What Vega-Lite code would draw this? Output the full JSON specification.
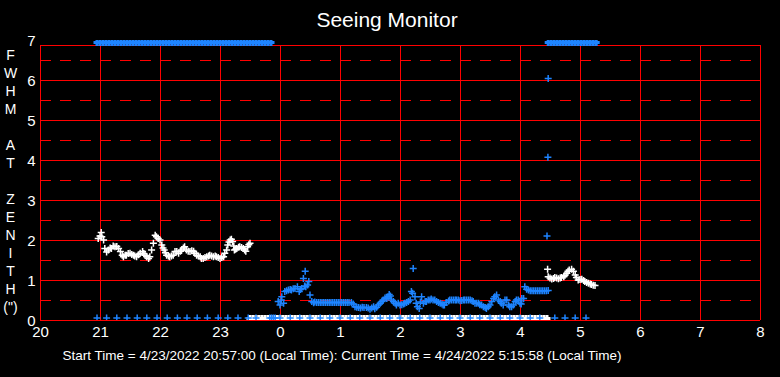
{
"$schema":"https://vega.github.io/schema/vega-lite/v6.json",
"width":720,"height":280,
"autosize":{"type":"none"},
"padding":{"left":40,"top":40,"right":20,"bottom":57},
"background":"black",
"config":{"view":{"stroke":null},"font":"Liberation Sans","axis":{"labelOverlap":false,"labelFlush":false,"labelBound":false},"axisY":{"tickCount":8,"labelOverlap":false}},
"title":{"text":"Seeing Monitor","color":"white","fontSize":21,"fontWeight":"normal","anchor":"middle","offset":2,"dx":-13},
"datasets":{
"vlines":[{"x":20},{"x":21},{"x":22},{"x":23},{"x":24},{"x":25},{"x":26},{"x":27},{"x":28},{"x":29},{"x":30},{"x":31},{"x":32}],
"hsolid":[{"y":0},{"y":1},{"y":2},{"y":3},{"y":4},{"y":5},{"y":6},{"y":6.875}],
"hdash":[{"y":0.5},{"y":1.5},{"y":2.5},{"y":3.5},{"y":4.5},{"y":5.5},{"y":6.5}],
"white":[
{"t":20.97,"v":2.04},{"t":21.0,"v":2.1},{"t":21.02,"v":2.19},{"t":21.03,"v":2.08},{"t":21.06,"v":2.0},{"t":21.08,"v":1.79},{"t":21.11,"v":1.7},{"t":21.14,"v":1.75},{"t":21.17,"v":1.8},{"t":21.19,"v":1.79},{"t":21.22,"v":1.85},{"t":21.25,"v":1.83},{"t":21.28,"v":1.84},{"t":21.31,"v":1.79},{"t":21.34,"v":1.71},{"t":21.37,"v":1.62},{"t":21.39,"v":1.58},{"t":21.42,"v":1.62},{"t":21.44,"v":1.62},{"t":21.47,"v":1.66},{"t":21.5,"v":1.67},{"t":21.53,"v":1.64},{"t":21.56,"v":1.62},{"t":21.58,"v":1.6},{"t":21.61,"v":1.58},{"t":21.64,"v":1.63},{"t":21.67,"v":1.67},{"t":21.71,"v":1.71},{"t":21.73,"v":1.66},{"t":21.75,"v":1.62},{"t":21.78,"v":1.58},{"t":21.81,"v":1.54},{"t":21.83,"v":1.58},{"t":21.86,"v":1.75},{"t":21.89,"v":1.92},{"t":21.92,"v":2.12},{"t":21.94,"v":2.08},{"t":21.97,"v":2.04},{"t":22.0,"v":2.0},{"t":22.03,"v":1.875},{"t":22.05,"v":1.8},{"t":22.07,"v":1.75},{"t":22.09,"v":1.68},{"t":22.11,"v":1.62},{"t":22.14,"v":1.6},{"t":22.16,"v":1.58},{"t":22.19,"v":1.6},{"t":22.22,"v":1.62},{"t":22.25,"v":1.71},{"t":22.28,"v":1.71},{"t":22.31,"v":1.67},{"t":22.34,"v":1.72},{"t":22.36,"v":1.75},{"t":22.39,"v":1.8},{"t":22.41,"v":1.83},{"t":22.44,"v":1.75},{"t":22.47,"v":1.72},{"t":22.5,"v":1.71},{"t":22.53,"v":1.73},{"t":22.56,"v":1.72},{"t":22.58,"v":1.67},{"t":22.61,"v":1.62},{"t":22.64,"v":1.6},{"t":22.67,"v":1.58},{"t":22.69,"v":1.54},{"t":22.72,"v":1.54},{"t":22.75,"v":1.56},{"t":22.78,"v":1.58},{"t":22.81,"v":1.6},{"t":22.83,"v":1.62},{"t":22.86,"v":1.6},{"t":22.89,"v":1.58},{"t":22.92,"v":1.6},{"t":22.94,"v":1.58},{"t":22.97,"v":1.56},{"t":23.0,"v":1.54},{"t":23.03,"v":1.56},{"t":23.06,"v":1.58},{"t":23.08,"v":1.67},{"t":23.11,"v":1.75},{"t":23.13,"v":1.875},{"t":23.15,"v":1.95},{"t":23.17,"v":2.0},{"t":23.19,"v":2.02},{"t":23.21,"v":1.96},{"t":23.23,"v":1.85},{"t":23.24,"v":1.75},{"t":23.26,"v":1.77},{"t":23.28,"v":1.79},{"t":23.31,"v":1.82},{"t":23.33,"v":1.83},{"t":23.36,"v":1.81},{"t":23.39,"v":1.79},{"t":23.41,"v":1.75},{"t":23.43,"v":1.72},{"t":23.46,"v":1.83},{"t":23.48,"v":1.88},{"t":23.5,"v":1.92},
{"t":28.46,"v":1.27},{"t":28.47,"v":1.08},{"t":28.5,"v":1.05},{"t":28.53,"v":1.025},{"t":28.56,"v":1.04},{"t":28.58,"v":1.06},{"t":28.61,"v":1.05},{"t":28.64,"v":1.03},{"t":28.67,"v":1.05},{"t":28.69,"v":1.06},{"t":28.73,"v":1.08},{"t":28.75,"v":1.12},{"t":28.78,"v":1.17},{"t":28.8,"v":1.22},{"t":28.82,"v":1.25},{"t":28.86,"v":1.27},{"t":28.89,"v":1.22},{"t":28.92,"v":1.125},{"t":28.94,"v":1.06},{"t":28.97,"v":1.0},{"t":29.0,"v":1.01},{"t":29.03,"v":1.02},{"t":29.06,"v":0.99},{"t":29.08,"v":0.96},{"t":29.11,"v":0.94},{"t":29.14,"v":0.92},{"t":29.17,"v":0.9},{"t":29.19,"v":0.89},{"t":29.22,"v":0.87},{"t":29.25,"v":0.86}
],
"wband":[
{"t":23.5,"v":0.04},{"t":23.55,"v":0.04},{"t":23.6,"v":0.04},{"t":23.65,"v":0.04},{"t":23.7,"v":0.04},{"t":23.75,"v":0.04},{"t":23.8,"v":0.04},{"t":23.85,"v":0.04},{"t":23.9,"v":0.04},{"t":23.95,"v":0.04},{"t":24.0,"v":0.04},{"t":24.05,"v":0.04},{"t":24.1,"v":0.04},{"t":24.15,"v":0.04},{"t":24.2,"v":0.04},{"t":24.25,"v":0.04},{"t":24.3,"v":0.04},{"t":24.35,"v":0.04},{"t":24.4,"v":0.04},{"t":24.45,"v":0.04},{"t":24.5,"v":0.04},{"t":24.55,"v":0.04},{"t":24.6,"v":0.04},{"t":24.65,"v":0.04},{"t":24.7,"v":0.04},{"t":24.75,"v":0.04},{"t":24.8,"v":0.04},{"t":24.85,"v":0.04},{"t":24.9,"v":0.04},{"t":24.95,"v":0.04},{"t":25.0,"v":0.04},{"t":25.05,"v":0.04},{"t":25.1,"v":0.04},{"t":25.15,"v":0.04},{"t":25.2,"v":0.04},{"t":25.25,"v":0.04},{"t":25.3,"v":0.04},{"t":25.35,"v":0.04},{"t":25.4,"v":0.04},{"t":25.45,"v":0.04},{"t":25.5,"v":0.04},{"t":25.55,"v":0.04},{"t":25.6,"v":0.04},{"t":25.65,"v":0.04},{"t":25.7,"v":0.04},{"t":25.75,"v":0.04},{"t":25.8,"v":0.04},{"t":25.85,"v":0.04},{"t":25.9,"v":0.04},{"t":25.95,"v":0.04},{"t":26.0,"v":0.04},{"t":26.05,"v":0.04},{"t":26.1,"v":0.04},{"t":26.15,"v":0.04},{"t":26.2,"v":0.04},{"t":26.25,"v":0.04},{"t":26.3,"v":0.04},{"t":26.35,"v":0.04},{"t":26.4,"v":0.04},{"t":26.45,"v":0.04},{"t":26.5,"v":0.04},{"t":26.55,"v":0.04},{"t":26.6,"v":0.04},{"t":26.65,"v":0.04},{"t":26.7,"v":0.04},{"t":26.75,"v":0.04},{"t":26.8,"v":0.04},{"t":26.85,"v":0.04},{"t":26.9,"v":0.04},{"t":26.95,"v":0.04},{"t":27.0,"v":0.04},{"t":27.05,"v":0.04},{"t":27.1,"v":0.04},{"t":27.15,"v":0.04},{"t":27.2,"v":0.04},{"t":27.25,"v":0.04},{"t":27.3,"v":0.04},{"t":27.35,"v":0.04},{"t":27.4,"v":0.04},{"t":27.45,"v":0.04},{"t":27.5,"v":0.04},{"t":27.55,"v":0.04},{"t":27.6,"v":0.04},{"t":27.65,"v":0.04},{"t":27.7,"v":0.04},{"t":27.75,"v":0.04},{"t":27.8,"v":0.04},{"t":27.85,"v":0.04},{"t":27.9,"v":0.04},{"t":27.95,"v":0.04},{"t":28.0,"v":0.04},{"t":28.05,"v":0.04},{"t":28.1,"v":0.04},{"t":28.15,"v":0.04},{"t":28.2,"v":0.04},{"t":28.25,"v":0.04},{"t":28.3,"v":0.04},{"t":28.35,"v":0.04},{"t":28.4,"v":0.04},{"t":28.45,"v":0.04}
],
"bband":[
{"t":20.95,"v":6.94},{"t":21.0,"v":6.94},{"t":21.05,"v":6.94},{"t":21.1,"v":6.94},{"t":21.15,"v":6.94},{"t":21.2,"v":6.94},{"t":21.25,"v":6.94},{"t":21.3,"v":6.94},{"t":21.35,"v":6.94},{"t":21.4,"v":6.94},{"t":21.45,"v":6.94},{"t":21.5,"v":6.94},{"t":21.55,"v":6.94},{"t":21.6,"v":6.94},{"t":21.65,"v":6.94},{"t":21.7,"v":6.94},{"t":21.75,"v":6.94},{"t":21.8,"v":6.94},{"t":21.85,"v":6.94},{"t":21.9,"v":6.94},{"t":21.95,"v":6.94},{"t":22.0,"v":6.94},{"t":22.05,"v":6.94},{"t":22.1,"v":6.94},{"t":22.15,"v":6.94},{"t":22.2,"v":6.94},{"t":22.25,"v":6.94},{"t":22.3,"v":6.94},{"t":22.35,"v":6.94},{"t":22.4,"v":6.94},{"t":22.45,"v":6.94},{"t":22.5,"v":6.94},{"t":22.55,"v":6.94},{"t":22.6,"v":6.94},{"t":22.65,"v":6.94},{"t":22.7,"v":6.94},{"t":22.75,"v":6.94},{"t":22.8,"v":6.94},{"t":22.85,"v":6.94},{"t":22.9,"v":6.94},{"t":22.95,"v":6.94},{"t":23.0,"v":6.94},{"t":23.05,"v":6.94},{"t":23.1,"v":6.94},{"t":23.15,"v":6.94},{"t":23.2,"v":6.94},{"t":23.25,"v":6.94},{"t":23.3,"v":6.94},{"t":23.35,"v":6.94},{"t":23.4,"v":6.94},{"t":23.45,"v":6.94},{"t":23.5,"v":6.94},{"t":23.55,"v":6.94},{"t":23.6,"v":6.94},{"t":23.65,"v":6.94},{"t":23.7,"v":6.94},{"t":23.75,"v":6.94},{"t":23.8,"v":6.94},{"t":23.85,"v":6.94},
{"t":28.47,"v":6.94},{"t":28.52,"v":6.94},{"t":28.57,"v":6.94},{"t":28.62,"v":6.94},{"t":28.67,"v":6.94},{"t":28.72,"v":6.94},{"t":28.77,"v":6.94},{"t":28.82,"v":6.94},{"t":28.87,"v":6.94},{"t":28.92,"v":6.94},{"t":28.97,"v":6.94},{"t":29.02,"v":6.94},{"t":29.07,"v":6.94},{"t":29.12,"v":6.94},{"t":29.17,"v":6.94},{"t":29.22,"v":6.94},{"t":29.27,"v":6.94}
],
"blue":[
{"t":23.97,"v":0.46},{"t":24.0,"v":0.375},{"t":24.02,"v":0.5},{"t":24.03,"v":0.58},{"t":24.06,"v":0.42},{"t":24.08,"v":0.71},{"t":24.11,"v":0.73},{"t":24.14,"v":0.75},{"t":24.17,"v":0.76},{"t":24.19,"v":0.75},{"t":24.22,"v":0.78},{"t":24.25,"v":0.79},{"t":24.29,"v":0.83},{"t":24.32,"v":0.71},{"t":24.34,"v":0.76},{"t":24.36,"v":0.79},{"t":24.39,"v":1.04},{"t":24.41,"v":0.85},{"t":24.42,"v":1.22},{"t":24.43,"v":0.83},{"t":24.46,"v":0.875},{"t":24.48,"v":0.96},{"t":24.5,"v":0.625},{"t":24.53,"v":0.46},{"t":24.56,"v":0.43},{"t":24.58,"v":0.45},{"t":24.61,"v":0.44},{"t":24.64,"v":0.44},{"t":24.67,"v":0.44},{"t":24.7,"v":0.44},{"t":24.73,"v":0.44},{"t":24.76,"v":0.44},{"t":24.79,"v":0.44},{"t":24.82,"v":0.44},{"t":24.85,"v":0.44},{"t":24.88,"v":0.44},{"t":24.91,"v":0.44},{"t":24.94,"v":0.44},{"t":24.97,"v":0.44},{"t":25.0,"v":0.44},{"t":25.03,"v":0.44},{"t":25.06,"v":0.44},{"t":25.09,"v":0.44},{"t":25.12,"v":0.44},{"t":25.15,"v":0.44},{"t":25.19,"v":0.44},{"t":25.22,"v":0.4},{"t":25.25,"v":0.33},{"t":25.28,"v":0.32},{"t":25.31,"v":0.31},{"t":25.34,"v":0.3},{"t":25.37,"v":0.32},{"t":25.4,"v":0.31},{"t":25.44,"v":0.31},{"t":25.47,"v":0.3},{"t":25.5,"v":0.27},{"t":25.53,"v":0.3},{"t":25.56,"v":0.33},{"t":25.58,"v":0.28},{"t":25.61,"v":0.32},{"t":25.64,"v":0.375},{"t":25.67,"v":0.42},{"t":25.7,"v":0.46},{"t":25.72,"v":0.5},{"t":25.75,"v":0.55},{"t":25.78,"v":0.54},{"t":25.8,"v":0.58},{"t":25.82,"v":0.64},{"t":25.84,"v":0.6},{"t":25.86,"v":0.5},{"t":25.89,"v":0.46},{"t":25.92,"v":0.42},{"t":25.94,"v":0.375},{"t":25.97,"v":0.42},{"t":26.0,"v":0.375},{"t":26.03,"v":0.38},{"t":26.06,"v":0.4},{"t":26.08,"v":0.42},{"t":26.11,"v":0.44},{"t":26.14,"v":0.46},{"t":26.17,"v":0.5},{"t":26.19,"v":0.71},{"t":26.21,"v":0.67},{"t":26.22,"v":1.29},{"t":26.25,"v":0.58},{"t":26.27,"v":0.42},{"t":26.29,"v":0.33},{"t":26.32,"v":0.29},{"t":26.34,"v":0.45},{"t":26.36,"v":0.58},{"t":26.39,"v":0.42},{"t":26.42,"v":0.46},{"t":26.44,"v":0.46},{"t":26.47,"v":0.5},{"t":26.5,"v":0.5},{"t":26.52,"v":0.525},{"t":26.55,"v":0.5},{"t":26.58,"v":0.5},{"t":26.61,"v":0.46},{"t":26.64,"v":0.44},{"t":26.67,"v":0.42},{"t":26.7,"v":0.4},{"t":26.72,"v":0.375},{"t":26.74,"v":0.375},{"t":26.77,"v":0.44},{"t":26.81,"v":0.475},{"t":26.83,"v":0.5},{"t":26.86,"v":0.5},{"t":26.89,"v":0.5},{"t":26.92,"v":0.5},{"t":26.94,"v":0.5},{"t":26.97,"v":0.5},{"t":27.0,"v":0.48},{"t":27.03,"v":0.49},{"t":27.06,"v":0.5},{"t":27.08,"v":0.5},{"t":27.11,"v":0.5},{"t":27.14,"v":0.5},{"t":27.17,"v":0.5},{"t":27.2,"v":0.48},{"t":27.22,"v":0.46},{"t":27.25,"v":0.42},{"t":27.28,"v":0.42},{"t":27.31,"v":0.42},{"t":27.33,"v":0.38},{"t":27.36,"v":0.375},{"t":27.39,"v":0.33},{"t":27.42,"v":0.31},{"t":27.44,"v":0.29},{"t":27.47,"v":0.33},{"t":27.5,"v":0.375},{"t":27.53,"v":0.46},{"t":27.56,"v":0.54},{"t":27.58,"v":0.58},{"t":27.61,"v":0.625},{"t":27.64,"v":0.5},{"t":27.67,"v":0.46},{"t":27.69,"v":0.42},{"t":27.72,"v":0.375},{"t":27.75,"v":0.5},{"t":27.78,"v":0.5},{"t":27.81,"v":0.375},{"t":27.83,"v":0.33},{"t":27.86,"v":0.33},{"t":27.89,"v":0.375},{"t":27.92,"v":0.46},{"t":27.94,"v":0.5},{"t":27.97,"v":0.5},{"t":28.0,"v":0.42},{"t":28.02,"v":0.4},{"t":28.03,"v":0.54},{"t":28.06,"v":0.54},{"t":28.08,"v":0.83},{"t":28.11,"v":0.77},{"t":28.14,"v":0.75},{"t":28.17,"v":0.73},{"t":28.2,"v":0.73},{"t":28.23,"v":0.73},{"t":28.26,"v":0.73},{"t":28.29,"v":0.73},{"t":28.32,"v":0.73},{"t":28.35,"v":0.73},{"t":28.38,"v":0.73},{"t":28.41,"v":0.73},{"t":28.44,"v":0.73},{"t":28.47,"v":0.74},
{"t":28.47,"v":6.04},{"t":28.465,"v":4.07},{"t":28.45,"v":2.1},
{"t":20.95,"v":0.05},{"t":21.11,"v":0.05},{"t":21.28,"v":0.05},{"t":21.45,"v":0.05},{"t":21.62,"v":0.05},{"t":21.78,"v":0.05},{"t":21.95,"v":0.05},{"t":22.12,"v":0.05},{"t":22.29,"v":0.05},{"t":22.45,"v":0.05},{"t":22.62,"v":0.05},{"t":22.79,"v":0.05},{"t":22.97,"v":0.05},{"t":23.13,"v":0.05},{"t":23.3,"v":0.05},{"t":23.47,"v":0.05},{"t":23.6,"v":0.05},{"t":23.83,"v":0.05},{"t":23.86,"v":0.05},{"t":23.89,"v":0.05},{"t":23.92,"v":0.05},{"t":24.0,"v":0.05},{"t":24.17,"v":0.05},{"t":24.33,"v":0.05},{"t":24.5,"v":0.05},{"t":24.67,"v":0.05},{"t":24.83,"v":0.05},{"t":25.0,"v":0.05},{"t":25.17,"v":0.05},{"t":25.33,"v":0.05},{"t":25.5,"v":0.05},{"t":25.67,"v":0.05},{"t":25.83,"v":0.05},{"t":26.0,"v":0.05},{"t":26.17,"v":0.05},{"t":26.33,"v":0.05},{"t":26.5,"v":0.05},{"t":26.67,"v":0.05},{"t":26.83,"v":0.05},{"t":27.0,"v":0.05},{"t":27.17,"v":0.05},{"t":27.33,"v":0.05},{"t":27.5,"v":0.05},{"t":27.67,"v":0.05},{"t":27.83,"v":0.05},{"t":28.0,"v":0.05},{"t":28.17,"v":0.05},{"t":28.33,"v":0.05},{"t":28.58,"v":0.05},{"t":28.75,"v":0.05},{"t":28.92,"v":0.05},{"t":29.1,"v":0.05}
]
},
"layer":[
{"data":{"name":"vlines"},"mark":{"type":"rule","color":"#ff0000","strokeWidth":1,"xOffset":0.5},
 "encoding":{
  "x":{"field":"x","type":"quantitative","scale":{"domain":[20,32],"nice":false,"zero":false},
   "axis":{"values":[20,21,22,23,24,25,26,27,28,29,30,31,32],"labelExpr":"'' + (datum.value % 24)","grid":false,"ticks":false,"domain":false,"labelColor":"white","labelFontSize":15,"labelPadding":4,"labelFlush":false,"labelOverlap":false,"labelBound":false,
    "title":"Start Time = 4/23/2022 20:57:00 (Local Time):  Current Time = 4/24/2022 5:15:58 (Local Time)","titleColor":"white","titleFontSize":13.5,"titleFontWeight":"normal","titleX":22,"titleY":35,"titleAlign":"left","titleAnchor":"start","titleBaseline":"middle"}},
  "y":{"datum":0,"type":"quantitative","scale":{"domain":[0,7],"nice":false},
   "axis":{"values":[0,1,2,3,4,5,6,7],"tickCount":8,"grid":false,"ticks":false,"domain":false,"labelColor":"white","labelFontSize":15,"labelPadding":5,"labelFlush":false,"labelOverlap":false,"labelBound":false,
    "title":["F","W","H","M","\u2800","A","T","\u2800","Z","E","N","I","T","H","(\")"],"titleAngle":0,"titleX":-30,"titleY":8,"titleAlign":"center","titleBaseline":"top","titleLineHeight":18,"titleFontSize":14,"titleColor":"white","titleFontWeight":"normal"}},
  "y2":{"datum":6.875}}},
{"data":{"name":"hsolid"},"mark":{"type":"rule","color":"#ff0000","strokeWidth":1,"yOffset":0.5},
 "encoding":{"y":{"field":"y","type":"quantitative"},"x":{"datum":20,"type":"quantitative"},"x2":{"datum":32}}},
{"data":{"name":"hdash"},"mark":{"type":"rule","color":"#ff0000","strokeWidth":1,"yOffset":0.5,"strokeDash":[11,9]},
 "encoding":{"y":{"field":"y","type":"quantitative"},"x":{"datum":20,"type":"quantitative"},"x2":{"datum":32}}},
{"data":{"name":"white"},"mark":{"type":"point","shape":"M-1,0H1M0,-1V1","size":49,"filled":false,"strokeWidth":1.5,"color":"white","opacity":1,"clip":true},
 "encoding":{"x":{"field":"t","type":"quantitative"},"y":{"field":"v","type":"quantitative"}}},
{"data":{"name":"wband"},"mark":{"type":"point","shape":"M-1,0H1M0,-1V1","size":49,"filled":false,"strokeWidth":3,"color":"white","opacity":1,"clip":true},
 "encoding":{"x":{"field":"t","type":"quantitative"},"y":{"field":"v","type":"quantitative"}}},
{"data":{"name":"bband"},"mark":{"type":"point","shape":"M-1,0H1M0,-1V1","size":49,"filled":false,"strokeWidth":3,"color":"#1e84ff","opacity":1,"clip":true},
 "encoding":{"x":{"field":"t","type":"quantitative"},"y":{"field":"v","type":"quantitative"}}},
{"data":{"name":"blue"},"mark":{"type":"point","shape":"M-1,0H1M0,-1V1","size":49,"filled":false,"strokeWidth":1.5,"color":"#1e84ff","opacity":1,"clip":true},
 "encoding":{"x":{"field":"t","type":"quantitative"},"y":{"field":"v","type":"quantitative"}}}
]
}
